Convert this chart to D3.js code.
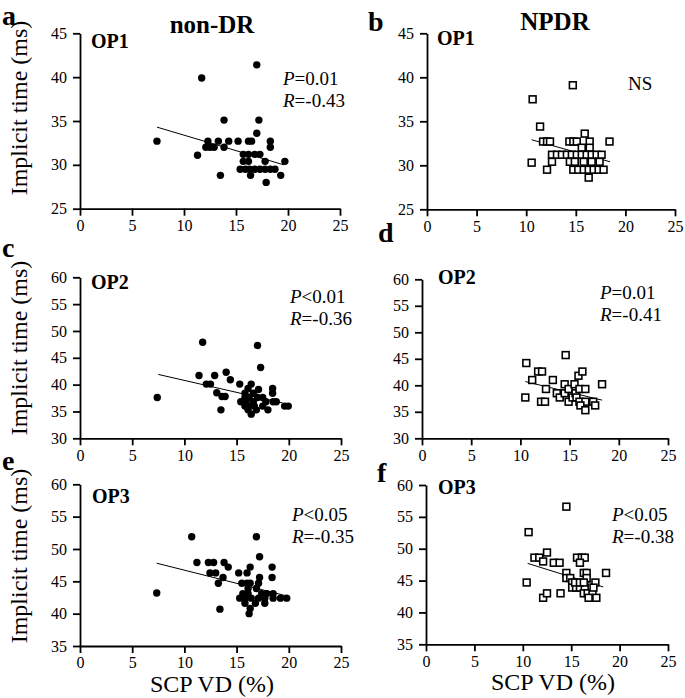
<!DOCTYPE html>
<html>
<head>
<meta charset="utf-8">
<script src="https://cdn.jsdelivr.net/npm/d3@7"></script>
<style>
  body { margin: 0; background: #fff; }
  svg text { font-family: "Liberation Serif", "Times New Roman", serif; fill: #000; }
</style>
</head>
<body>
<svg id="chart" width="685" height="698"></svg>
<script>
// x = SCP VD (%), y = implicit time (ms)
const xTicks = [0, 5, 10, 15, 20, 25];

const op1NonDR = [
  [7.4, 32.7], [11.7, 39.9], [17.0, 41.4], [13.85, 35.1], [17.2, 35.1], [17.0, 33.6],
  [12.3, 32.7], [13.3, 32.7], [14.3, 32.7], [15.2, 32.7], [16.2, 32.7], [16.5, 32.7], [18.3, 32.7],
  [12.1, 32.0], [12.5, 32.0], [12.9, 32.0], [13.85, 32.0], [18.3, 32.0],
  [11.3, 31.1], [15.7, 31.2], [16.2, 31.2], [16.8, 31.2], [17.3, 31.2],
  [15.7, 30.4], [16.2, 30.4], [17.8, 30.4], [19.7, 30.4],
  [15.4, 29.5], [15.9, 29.5], [16.3, 29.5], [16.8, 29.5], [17.3, 29.5], [17.8, 29.5], [18.3, 29.5], [18.75, 29.5],
  [13.5, 28.8], [16.4, 28.8], [19.3, 28.8], [17.9, 28.0]
];
const op1NPDR = [
  [10.65, 37.5], [14.7, 39.1], [11.4, 34.4], [15.9, 33.6],
  [11.7, 32.7], [12.1, 32.7], [12.4, 32.7], [14.35, 32.7], [14.75, 32.7], [15.1, 32.7], [16.4, 32.7], [18.4, 32.7],
  [15.6, 32.0], [16.4, 32.0],
  [12.6, 31.2], [13.1, 31.2], [13.6, 31.2], [14.1, 31.2], [14.6, 31.2], [15.1, 31.2], [15.6, 31.2], [16.1, 31.2], [16.6, 31.2], [17.1, 31.2], [17.6, 31.2],
  [10.55, 30.3], [12.6, 30.4], [14.4, 30.4], [14.9, 30.4], [15.8, 30.4], [16.6, 30.4], [17.4, 30.4],
  [12.1, 29.5], [14.75, 29.5], [15.25, 29.5], [15.8, 29.5], [16.3, 29.5], [16.8, 29.5], [17.3, 29.5], [17.8, 29.5],
  [16.3, 28.6]
];
const op2NonDR = [
  [7.4, 37.6], [11.75, 47.9], [17.0, 47.3], [17.3, 43.2], [11.4, 41.7], [12.9, 41.7], [14.0, 42.3], [14.4, 40.9],
  [12.1, 40.1], [12.5, 40.1], [15.3, 40.1], [16.4, 40.1], [17.1, 39.1], [18.45, 39.3], [18.45, 38.4],
  [13.1, 38.5], [13.6, 37.8], [13.9, 37.8], [13.5, 35.3], [16.1, 39.3],
  [15.8, 38.4], [16.6, 38.4],
  [15.8, 37.6], [16.2, 37.6], [17.0, 37.6], [17.5, 37.6],
  [15.4, 36.8], [15.9, 36.8], [16.6, 36.8], [17.8, 36.8], [18.5, 36.8], [18.8, 36.8],
  [15.8, 36.0], [16.2, 36.0], [16.7, 36.0], [17.5, 36.0], [19.6, 36.0], [19.95, 36.0],
  [16.1, 35.3], [16.9, 35.3], [18.0, 35.3], [16.4, 34.5]
];
const op2NPDR = [
  [10.5, 37.7], [10.6, 44.2], [11.2, 41.0], [11.8, 42.6], [12.2, 42.6], [12.1, 36.9], [12.5, 36.9],
  [12.6, 39.3], [13.3, 41.0], [13.7, 38.5], [14.0, 37.7], [14.5, 38.5], [14.5, 40.2], [14.6, 45.7],
  [14.9, 39.3], [14.9, 36.9], [15.3, 37.7], [15.5, 40.2], [15.6, 38.5], [15.7, 37.7], [15.9, 41.8],
  [16.3, 42.6], [16.0, 39.3], [16.6, 39.3], [16.0, 36.9], [16.6, 36.9], [17.4, 36.9],
  [16.1, 36.2], [16.6, 35.3], [17.6, 36.2], [18.3, 40.2]
];
const op3NonDR = [
  [7.35, 43.2], [10.7, 51.9], [16.9, 51.9], [17.2, 48.8],
  [11.2, 47.9], [12.3, 47.9], [12.8, 47.9], [13.8, 47.9],
  [14.2, 47.2], [16.3, 47.2], [18.4, 47.2],
  [12.45, 46.3], [13.0, 46.3], [15.2, 46.3], [16.0, 46.3],
  [13.7, 45.6], [17.2, 45.6], [18.4, 45.6],
  [13.25, 44.7], [15.5, 44.7], [16.0, 44.7], [16.3, 44.7], [17.1, 44.7],
  [16.1, 43.9], [16.9, 43.9],
  [15.6, 43.1], [16.1, 43.1], [17.4, 43.1], [17.9, 43.1], [18.5, 43.1],
  [15.3, 42.4], [15.8, 42.4], [16.4, 42.4], [17.1, 42.4], [17.7, 42.4], [18.5, 42.4], [19.2, 42.4], [19.8, 42.4],
  [15.8, 41.6], [16.8, 41.6], [17.7, 41.6],
  [16.3, 40.8], [13.4, 40.7], [16.2, 40.0]
];
const op3NPDR = [
  [10.4, 44.7], [10.6, 52.6], [11.2, 48.6], [11.7, 48.6], [12.1, 48.0], [12.5, 49.4],
  [12.1, 42.3], [12.5, 43.0], [13.2, 47.8], [13.8, 47.8], [13.9, 43.0], [14.5, 56.6],
  [14.5, 46.2], [14.5, 45.4], [14.9, 45.4], [15.1, 44.7],
  [15.6, 48.6], [16.1, 48.6], [16.4, 48.6], [15.9, 47.8],
  [16.3, 46.2], [16.6, 46.2], [16.6, 45.4],
  [15.1, 43.9], [15.5, 43.9], [15.9, 43.9], [16.4, 43.9],
  [15.4, 44.7], [15.9, 44.7], [16.3, 44.7],
  [16.3, 43.0], [16.7, 43.0], [17.2, 43.0], [16.8, 42.3], [17.6, 42.3],
  [17.5, 44.7], [17.3, 43.9], [18.6, 46.2]
];

// fitted lines as drawn, [start, end]
const fitOp1NonDR = [[7.4, 34.3], [19.6, 30.0]];
const fitOp1NPDR = [[10.55, 32.9], [18.45, 30.4]];
const fitOp2NonDR = [[7.5, 41.9], [19.4, 36.6]];
const fitOp2NPDR = [[10.5, 40.7], [18.3, 37.2]];
const fitOp3NonDR = [[7.35, 47.8], [19.9, 42.7]];
const fitOp3NPDR = [[10.5, 47.7], [18.3, 44.0]];

const yTicksOp1 = [25, 30, 35, 40, 45];
const yTicksOp2 = [30, 35, 40, 45, 50, 55, 60];
const yTicksOp3 = [35, 40, 45, 50, 55, 60];

const statText = [
  ["P", "=0.01", "R", "=-0.43"],
  null,
  ["P", "<0.01", "R", "=-0.36"],
  ["P", "=0.01", "R", "=-0.41"],
  ["P", "<0.05", "R", "=-0.35"],
  ["P", "<0.05", "R", "=-0.38"]
];

const svg = d3.select("#chart");

const panels = [
  { letter: "a", lx: 2, ly: 25, op: "OP1", opx: 91, opy: 48, pts: op1NonDR, fit: fitOp1NonDR, square: false,
    x0: 80, x1: 340, yTop: 33.3, yBot: 208.7, yTicks: yTicksOp1, stat: statText[0], sx: 283, sy: 85 },
  { letter: "b", lx: 368, ly: 31, op: "OP1", opx: 437, opy: 45, pts: op1NPDR, fit: fitOp1NPDR, square: true,
    x0: 427, x1: 675, yTop: 33.3, yBot: 209.3, yTicks: yTicksOp1, stat: null, sx: 628, sy: 90 },
  { letter: "c", lx: 2, ly: 257, op: "OP2", opx: 91, opy: 289, pts: op2NonDR, fit: fitOp2NonDR, square: false,
    x0: 80, x1: 341, yTop: 277.3, yBot: 438.3, yTicks: yTicksOp2, stat: statText[2], sx: 290, sy: 303 },
  { letter: "d", lx: 378, ly: 242, op: "OP2", opx: 438, opy: 284, pts: op2NPDR, fit: fitOp2NPDR, square: true,
    x0: 422, x1: 668, yTop: 279.3, yBot: 438.3, yTicks: yTicksOp2, stat: statText[3], sx: 600, sy: 299 },
  { letter: "e", lx: 2, ly: 470, op: "OP3", opx: 92, opy: 503, pts: op3NonDR, fit: fitOp3NonDR, square: false,
    x0: 80, x1: 341, yTop: 484.3, yBot: 646, yTicks: yTicksOp3, stat: statText[4], sx: 292, sy: 521 },
  { letter: "f", lx: 377, ly: 482, op: "OP3", opx: 438, opy: 494, pts: op3NPDR, fit: fitOp3NPDR, square: true,
    x0: 426, x1: 668, yTop: 485, yBot: 644.3, yTicks: yTicksOp3, stat: statText[5], sx: 612, sy: 521 }
];

panels.forEach(p => {
  const x = d3.scaleLinear().domain([0, 25]).range([p.x0, p.x1]);
  const y = d3.scaleLinear().domain([p.yTicks[0], p.yTicks[p.yTicks.length - 1]]).range([p.yBot, p.yTop]);
  const g = svg.append("g");

  // axes
  const xAxis = g.append("g")
    .attr("transform", `translate(0,${p.yBot})`)
    .call(d3.axisBottom(x).tickValues(xTicks).tickSize(7).tickSizeOuter(0).tickPadding(4));
  const yAxis = g.append("g")
    .attr("transform", `translate(${p.x0},0)`)
    .call(d3.axisLeft(y).tickValues(p.yTicks).tickSize(7).tickSizeOuter(0).tickPadding(6));
  [xAxis, yAxis].forEach(a => {
    a.attr("font-family", null);
    a.selectAll("path, line").attr("stroke", "#000").attr("stroke-width", 1.8);
    a.selectAll("text").style("font-size", "16px");
  });

  // regression line
  g.append("line")
    .attr("x1", x(p.fit[0][0])).attr("y1", y(p.fit[0][1]))
    .attr("x2", x(p.fit[1][0])).attr("y2", y(p.fit[1][1]))
    .attr("stroke", "#000").attr("stroke-width", 1);

  // points
  if (p.square) {
    g.selectAll(".pt").data(p.pts).enter().append("rect")
      .attr("x", d => x(d[0]) - 3.4).attr("y", d => y(d[1]) - 3.4)
      .attr("width", 6.8).attr("height", 6.8)
      .attr("fill", "#fff").attr("stroke", "#000").attr("stroke-width", 1.6);
  } else {
    g.selectAll(".pt").data(p.pts).enter().append("circle")
      .attr("cx", d => x(d[0])).attr("cy", d => y(d[1])).attr("r", 3.7)
      .attr("fill", "#000");
  }

  // labels
  g.append("text").attr("x", p.lx).attr("y", p.ly).text(p.letter)
    .style("font-size", "28px").style("font-weight", "bold");
  g.append("text").attr("x", p.opx).attr("y", p.opy).text(p.op)
    .style("font-size", "20px").style("font-weight", "bold");

  if (p.stat) {
    const t1 = g.append("text").attr("x", p.sx).attr("y", p.sy).style("font-size", "19px");
    t1.append("tspan").style("font-style", "italic").text(p.stat[0]);
    t1.append("tspan").text(p.stat[1]);
    const t2 = g.append("text").attr("x", p.sx).attr("y", p.sy + 22).style("font-size", "19px");
    t2.append("tspan").style("font-style", "italic").text(p.stat[2]);
    t2.append("tspan").text(p.stat[3]);
  } else {
    g.append("text").attr("x", p.sx).attr("y", p.sy).text("NS").style("font-size", "19px");
  }
});

// column headers
svg.append("text").attr("x", 212).attr("y", 33).attr("text-anchor", "middle")
  .text("non-DR").style("font-size", "25px").style("font-weight", "bold");
svg.append("text").attr("x", 555).attr("y", 30).attr("text-anchor", "middle")
  .text("NPDR").style("font-size", "25px").style("font-weight", "bold");

// y titles
[108, 348, 556].forEach(cy => {
  svg.append("text")
    .attr("transform", `translate(27,${cy}) rotate(-90)`)
    .attr("text-anchor", "middle")
    .text("Implicit time (ms)").style("font-size", "24px");
});

// x titles
[[212, 692], [553, 690]].forEach(([cx, cy]) => {
  svg.append("text").attr("x", cx).attr("y", cy).attr("text-anchor", "middle")
    .text("SCP VD (%)").style("font-size", "24px");
});
</script>
</body>
</html>
